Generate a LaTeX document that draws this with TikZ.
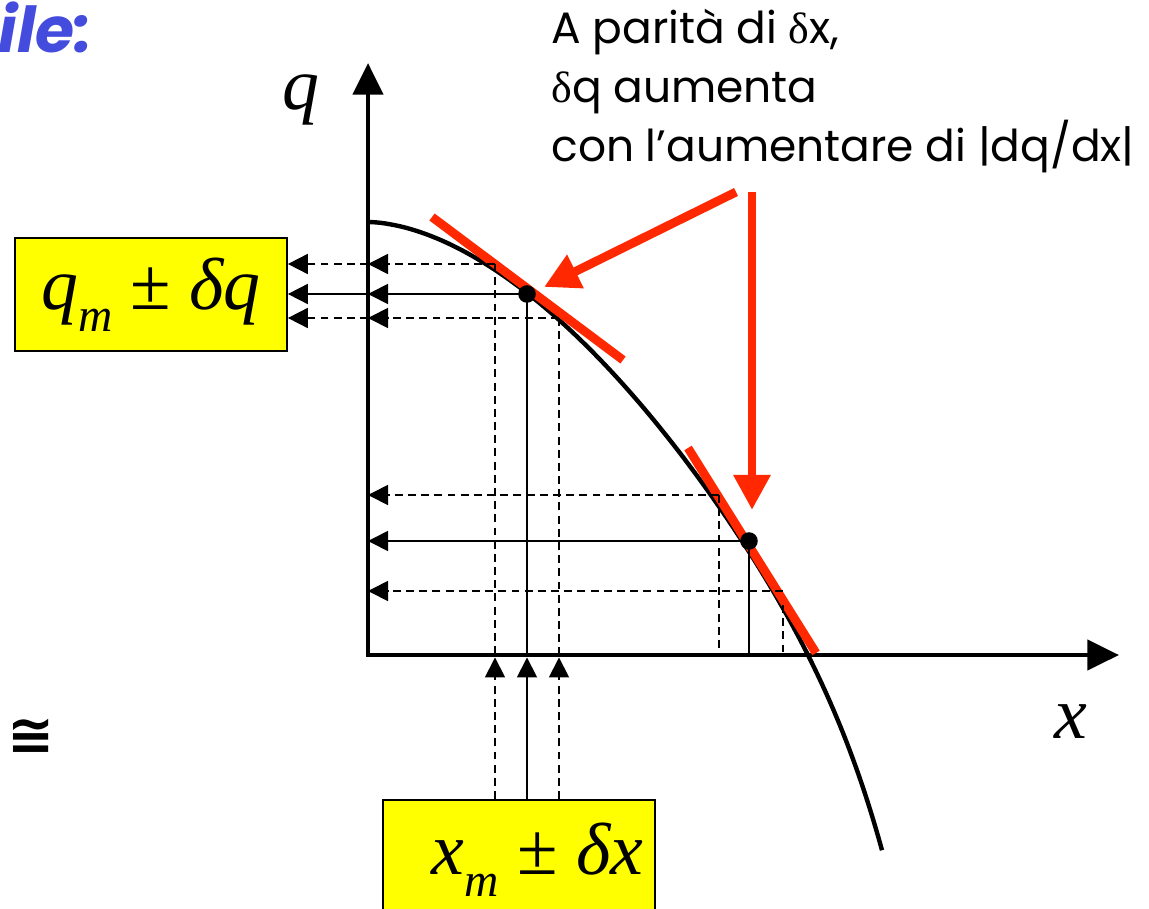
\documentclass[tikz,border=0pt]{standalone}
\usepackage{fontspec}
\newfontfamily\notefont{Poppins}
\newfontfamily\timesfont{Liberation Serif}
\newfontfamily\symbfont{DejaVu Sans}
\usepackage{tikz}
\usetikzlibrary{arrows.meta,positioning}
\definecolor{HintRed}{RGB}{255, 40, 0}
\definecolor{BoxYellow}{RGB}{255, 255, 0}
\definecolor{TitleBlue}{RGB}{68, 76, 222}

\tikzset{
    axisline/.style={line width=2.8pt, line cap=rect, -{Triangle[length=18pt, width=17pt]}},
    guideline/.style={line width=1pt},
    guidedash/.style={guideline, dash pattern=on 4.5pt off 3pt},
    smallarrow/.style={-{Triangle[length=11.4pt, width=11.4pt]}},
    tangentline/.style={HintRed, line width=5pt},
    hintarrow/.style={HintRed, line width=5pt, -{Triangle[length=20pt, width=20pt]}},
    valbox/.style={draw, line width=1pt, fill=BoxYellow, minimum width=5.44cm,
        minimum height=2.26cm, font=\timesfont\fontsize{42}{46}\selectfont},
    mathlabel/.style={font=\timesfont\itshape\fontsize{42}{44}\selectfont}
}

\begin{document}
\begin{tikzpicture}[x=0.02cm, y=-0.02cm]
    \useasboundingbox (0,0) rectangle (1149,909);
    \clip (0,0) rectangle (1149,909);
    % axes
    \coordinate (O) at (368,655);
    \coordinate (qtop) at (368,63);
    \coordinate (xend) at (1119,655);
    \draw[axisline] (O) -- (qtop);
    \draw[axisline] (O) -- (xend);
    \node[mathlabel] (qlabel) at (301,100) {q};
    \node[mathlabel] (xlabel) at (1071,722) {x};
    % the curve q(x)
    \draw[line width=2.5pt]
        plot[domain=0.5:514, samples=120, smooth]
        ({368+\x}, {222+71*(\x/159)^1.75+75*(\x/514)^12});
    % points on the tangents
    \coordinate (P1) at (527,294);
    \coordinate (P1a) at (495,264);
    \coordinate (P1b) at (559,318);
    \coordinate (P2) at (749,541);
    \coordinate (P2a) at (719,495);
    \coordinate (P2b) at (783,591);
    \coordinate (P2c) at (783,605);
    \draw[tangentline] (432,217) -- (623,360);
    \draw[tangentline] (688,448) -- (816,653);
    % boxes
    \node[valbox] (qbox) at (151,294.5)
        {\itshape q\raisebox{-0.3em}{\fontsize{27}{30}\selectfont m}\ \upshape ±\ \itshape δq};
    \node[valbox, anchor=north, minimum height=2.4cm] (xbox) at (519,799)
        {\hspace*{0.5em}\itshape x\raisebox{-0.3em}{\fontsize{27}{30}\selectfont m}\ \upshape ±\ \itshape δx};
    % projections, first point
    \draw[guidedash] (P1a) -- (P1a |- O);
    \draw[guideline] (P1) -- (P1 |- O);
    \draw[guidedash] (P1b) -- (P1b |- O);
    \draw[guidedash, smallarrow] (P1a) -- (O |- P1a);
    \draw[guideline, smallarrow] (P1) -- (O |- P1);
    \draw[guidedash, smallarrow] (P1b) -- (O |- P1b);
    \draw[guidedash, smallarrow] (O |- P1a) -- (qbox.east |- P1a);
    \draw[guideline, smallarrow] (O |- P1) -- (qbox.east |- P1);
    \draw[guidedash, smallarrow] (O |- P1b) -- (qbox.east |- P1b);
    \draw[guidedash, smallarrow, shorten >=1.4pt] (xbox.north -| P1a) -- (P1a |- O);
    \draw[guideline, smallarrow, shorten >=1.4pt] (xbox.north -| P1) -- (P1 |- O);
    \draw[guidedash, smallarrow, shorten >=1.4pt] (xbox.north -| P1b) -- (P1b |- O);
    % projections, second point
    \draw[guidedash] (P2a) -- (P2a |- O);
    \draw[guideline] (P2) -- (P2 |- O);
    \draw[guidedash] (P2c) -- (P2c |- O);
    \draw[guidedash, smallarrow] (P2a) -- (O |- P2a);
    \draw[guideline, smallarrow] (P2) -- (O |- P2);
    \draw[guidedash, smallarrow] (P2b) -- (O |- P2b);
    \fill (P1) circle (5pt);
    \fill (P2) circle (5pt);
    % note and pointers
    \node[anchor=north west, inner sep=0pt, align=left,
        font=\notefont\fontsize{25}{33.5}\selectfont] (note) at (551,9)
        {A parità di {\timesfont δ}x,\\ {\timesfont δ}q aumenta\\ con l’aumentare di |dq/dx|};
    \coordinate (h1) at (736,192);
    \coordinate (h1tip) at (544,287);
    \coordinate (h2) at (752,192);
    \coordinate (h2tip) at (752,510);
    \draw[hintarrow] (h1) -- (h1tip);
    \draw[hintarrow] (h2) -- (h2tip);
    % leftovers of the slide
    \node[anchor=base west, inner sep=0pt, TitleBlue,
        font=\notefont\bfseries\itshape\fontsize{36}{40}\selectfont] (title) at (-2,53) {ile:};
    \node[font=\symbfont\bfseries\fontsize{32}{34}\selectfont] (cong) at (31,737) {≅};
\end{tikzpicture}
\end{document}
